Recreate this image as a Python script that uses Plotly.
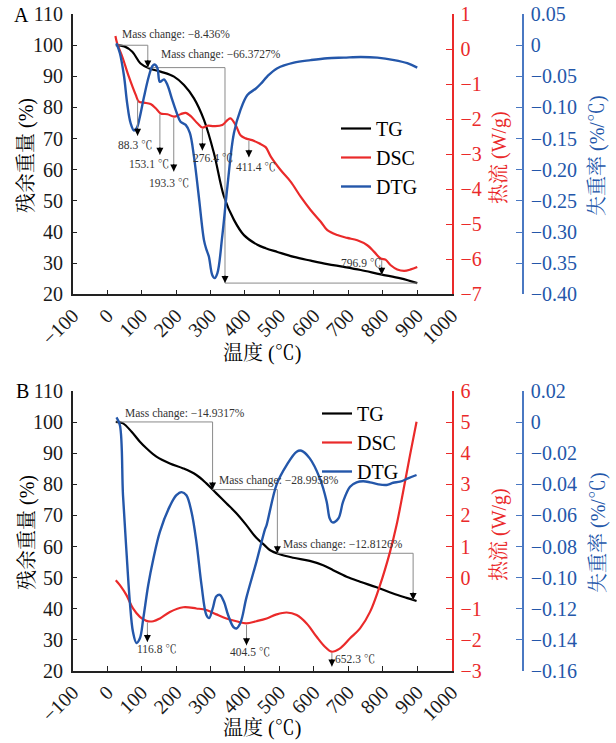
import numpy as np
import plotly.graph_objects as go

# ---------------- DATA ----------------
# Panel A
a_tg_T = [25, 50, 73, 97, 121, 155, 194, 223, 252, 281, 310, 339, 368, 397, 436, 460, 494, 542, 591, 639, 687, 736, 794, 852, 900]
a_tg_v = [100.0, 99.6, 97.9, 94.1, 92.6, 91.5, 89.9, 87.2, 82.9, 76.0, 65.3, 51.4, 43.9, 39.0, 35.9, 34.8, 33.6, 32.0, 30.8, 29.7, 28.8, 27.8, 26.4, 25.1, 23.6]

a_dsc_T = [24, 29, 44, 63, 83, 92, 107, 126, 141, 155, 175, 194, 213, 228, 242, 262, 276, 291, 310, 334, 349, 358, 373, 387, 402, 421, 441, 460, 475, 504, 533, 562, 591, 620, 639, 668, 697, 726, 755, 775, 794, 808, 823, 842, 862, 881, 900]
a_dsc_v = [0.37, 0.16, -0.22, -0.79, -1.31, -1.50, -1.53, -1.57, -1.69, -1.84, -1.86, -1.93, -1.86, -1.82, -1.91, -2.12, -2.24, -2.19, -2.20, -2.17, -2.03, -1.98, -2.17, -2.46, -2.55, -2.60, -2.69, -2.80, -3.07, -3.46, -3.79, -4.22, -4.60, -4.93, -5.17, -5.31, -5.39, -5.46, -5.60, -5.79, -5.98, -6.01, -6.17, -6.29, -6.33, -6.29, -6.22]

a_dtg_T = [27, 37, 49, 58, 68, 78, 86, 95, 107, 121, 131, 138, 146, 153, 165, 175, 189, 202, 213, 228, 240, 252, 266, 281, 288, 295, 305, 312, 320, 334, 349, 368, 387, 407, 431, 446, 465, 494, 542, 591, 639, 687, 736, 784, 833, 871, 900]
a_dtg_v = [0.003, -0.013, -0.050, -0.093, -0.125, -0.137, -0.133, -0.115, -0.083, -0.050, -0.034, -0.031, -0.037, -0.059, -0.055, -0.064, -0.088, -0.109, -0.123, -0.128, -0.141, -0.179, -0.243, -0.313, -0.328, -0.339, -0.369, -0.374, -0.366, -0.307, -0.227, -0.141, -0.104, -0.080, -0.070, -0.062, -0.050, -0.037, -0.028, -0.024, -0.021, -0.020, -0.019, -0.020, -0.024, -0.029, -0.036]

# Panel B
b_tg_T = [25, 46, 71, 95, 114, 143, 182, 221, 259, 288, 317, 346, 375, 404, 433, 458, 472, 501, 540, 588, 627, 656, 695, 734, 782, 830, 869, 898]
b_tg_v = [100.1, 99.6, 96.9, 93.7, 91.6, 88.9, 86.7, 85.1, 83.0, 80.3, 77.1, 73.9, 70.7, 66.9, 62.8, 60.3, 58.9, 57.5, 56.4, 55.4, 54.0, 52.4, 50.3, 48.7, 46.9, 44.9, 43.5, 42.5]

b_dsc_T = [25, 37, 56, 75, 95, 114, 134, 153, 182, 221, 259, 288, 317, 346, 375, 404, 433, 463, 492, 521, 550, 579, 608, 632, 651, 675, 705, 734, 763, 792, 821, 840, 859, 879, 898]
b_dsc_v = [-0.08, -0.24, -0.56, -0.99, -1.26, -1.39, -1.40, -1.31, -1.10, -0.95, -0.99, -1.04, -1.18, -1.31, -1.40, -1.47, -1.40, -1.31, -1.18, -1.12, -1.20, -1.47, -1.90, -2.22, -2.38, -2.28, -1.95, -1.63, -1.10, -0.24, 0.83, 1.69, 2.76, 3.94, 5.01]

b_dtg_T = [27, 37, 46, 56, 66, 75, 85, 95, 105, 119, 134, 153, 182, 201, 216, 230, 245, 259, 274, 288, 296, 306, 317, 327, 339, 351, 366, 375, 387, 404, 433, 458, 463, 492, 521, 550, 564, 588, 617, 637, 646, 654, 671, 685, 705, 724, 743, 763, 787, 811, 830, 850, 875, 898]
b_dtg_v = [0.003, -0.002, -0.047, -0.083, -0.116, -0.135, -0.142, -0.139, -0.126, -0.105, -0.088, -0.0705, -0.054, -0.047, -0.045, -0.047, -0.058, -0.077, -0.105, -0.124, -0.126, -0.120, -0.112, -0.111, -0.1155, -0.124, -0.1316, -0.1327, -0.129, -0.113, -0.090, -0.069, -0.066, -0.040, -0.0276, -0.019, -0.0184, -0.0233, -0.036, -0.051, -0.062, -0.0645, -0.062, -0.051, -0.0415, -0.0387, -0.038, -0.0387, -0.040, -0.0404, -0.039, -0.0383, -0.036, -0.034]

# Annotation content
a_mass_steps = [(27, 118, 118), (118, 342, 900)]       # (start, vertical, end) temperatures
a_mass_labels = ["Mass change: \u22128.436%", "Mass change: \u221266.3727%"]
b_mass_steps = [(27, 306, 306), (306, 494, 494), (494, 888, 888)]
b_mass_labels = ["Mass change: \u221214.9317%", "Mass change: \u221228.9958%", "Mass change: \u221212.8126%"]

a_peaks = [88.3, 153.1, 193.3, 276.4, 411.4, 796.9]
b_peaks = [116.8, 404.5, 652.3]

# tick labels
x_ticks = list(range(-100, 1001, 100))
x_ticktext = [("\u2212" + str(-t)) if t < 0 else str(t) for t in x_ticks]
a_blue_vals = [0.05, 0, -0.05, -0.10, -0.15, -0.20, -0.25, -0.30, -0.35, -0.40]
a_blue_text = ["0.05", "0", "\u22120.05", "\u22120.10", "\u22120.15", "\u22120.20", "\u22120.25", "\u22120.30", "\u22120.35", "\u22120.40"]
b_blue_vals = [0.02, 0, -0.02, -0.04, -0.06, -0.08, -0.10, -0.12, -0.14, -0.16]
b_blue_text = ["0.02", "0", "\u22120.02", "\u22120.04", "\u22120.06", "\u22120.08", "\u22120.10", "\u22120.12", "\u22120.14", "\u22120.16"]

# ---------------- STYLE ----------------
W, H = 616, 743
FONT = "Liberation Serif, 'Noto Serif CJK SC', 'Noto Sans CJK SC', serif"
RED = "#ea2a2a"
BLUE = "#2457aa"
BLUE_AX = "#4a78c2"
GRAY = "#8a8a8a"
TXT = "#333333"

def px2fx(px):
    return px / W

def py2fy(py):
    return 1 - py / H

XDOM = [px2fx(72.7), px2fx(451.7)]
A_DOM = [py2fy(294.3), py2fy(14)]
B_DOM = [py2fy(671), py2fy(391)]
BLUE_POS = px2fx(523)

fig = go.Figure()

def add_panel(tg_T, tg_v, dsc_T, dsc_v, dtg_T, dtg_v, xa, ya, yr, yb, legend):
    fig.add_trace(go.Scatter(x=tg_T, y=tg_v, name="TG", mode="lines", line=dict(color="black", width=2.2),
                             xaxis=xa, yaxis=ya, legend=legend, line_shape="spline"))
    fig.add_trace(go.Scatter(x=dsc_T, y=dsc_v, name="DSC", mode="lines", line=dict(color=RED, width=2.2),
                             xaxis=xa, yaxis=yr, legend=legend, line_shape="spline"))
    fig.add_trace(go.Scatter(x=dtg_T, y=dtg_v, name="DTG", mode="lines", line=dict(color=BLUE, width=2.4),
                             xaxis=xa, yaxis=yb, legend=legend, line_shape="spline"))

add_panel(a_tg_T, a_tg_v, a_dsc_T, a_dsc_v, a_dtg_T, a_dtg_v, "x", "y", "y2", "y3", "legend")
add_panel(b_tg_T, b_tg_v, b_dsc_T, b_dsc_v, b_dtg_T, b_dtg_v, "x2", "y4", "y5", "y6", "legend2")

annotations = []

def add_brackets(steps, labels, tg_T, tg_v, xa, ya, text_shifts):
    for (t0, tv, t1), lab, (dx, dy) in zip(steps, labels, text_shifts):
        la = float(np.interp(t0, tg_T, tg_v))
        lb = float(np.interp(t1, tg_T, tg_v))
        xs = [t0, tv, tv]
        ys = [la, la, lb]
        if t1 != tv:
            xs.append(t1)
            ys.append(lb)
        fig.add_trace(go.Scatter(x=xs, y=ys, mode="lines", line=dict(color=GRAY, width=1),
                                 xaxis=xa, yaxis=ya, showlegend=False, hoverinfo="skip"))
        annotations.append(dict(x=tv, y=lb, xref=xa, yref=ya, text="", showarrow=True,
                                ax=0, ay=-9, arrowhead=2, arrowsize=1.4, arrowwidth=1, arrowcolor="black"))
        annotations.append(dict(x=t0, y=la, xref=xa, yref=ya, text=lab, showarrow=False,
                                xanchor="left", yanchor="middle", xshift=dx, yshift=dy,
                                font=dict(family=FONT, size=11.5, color=TXT)))

add_brackets(a_mass_steps, a_mass_labels, a_tg_T, a_tg_v, "x", "y", [(4, 11), (11, 13)])
add_brackets(b_mass_steps, b_mass_labels, b_tg_T, b_tg_v, "x2", "y4", [(7, 8), (4, 9), (4, 9)])

def add_peaks(peaks, dsc_T, dsc_v, xa, yr, lengths, shifts):
    for t, L, (dx, dy) in zip(peaks, lengths, shifts):
        v = float(np.interp(t, dsc_T, dsc_v))
        annotations.append(dict(x=t, y=v, xref=xa, yref=yr, text="", showarrow=True,
                                ax=0, ay=-L, yshift=-L, arrowhead=0, arrowwidth=1, arrowcolor=GRAY))
        annotations.append(dict(x=t, y=v, xref=xa, yref=yr, text="", showarrow=True,
                                ax=0, ay=-9, yshift=-L, arrowhead=2, arrowsize=1.4, arrowwidth=1,
                                arrowcolor="black"))
        annotations.append(dict(x=t, y=v, xref=xa, yref=yr, text=f"{t} \u2103", showarrow=False,
                                xanchor="center", yanchor="middle", xshift=dx, yshift=-(L + dy),
                                font=dict(family=FONT, size=11.5, color=TXT)))

add_peaks(a_peaks, a_dsc_T, a_dsc_v, "x", "y2",
          [37, 42, 55, 23, 18, 16],
          [(-2, 9.5), (-11, 9), (-5, 11.5), (11, 8), (7, 10), (-21, -12)])
add_peaks(b_peaks, b_dsc_T, b_dsc_v, "x2", "y5",
          [21, 22, 15],
          [(10, 7), (3, 7), (23, -7.5)])

# Panel letters and axis titles
def txt(text, x, y, color="black", size=20, angle=0, xanchor="center"):
    annotations.append(dict(x=px2fx(x), y=py2fy(y), xref="paper", yref="paper", text=text,
                            showarrow=False, textangle=angle, xanchor=xanchor, yanchor="middle",
                            font=dict(family=FONT, size=size, color=color)))

txt("A", 21, 15)
txt("B", 22, 391)
for cy, cx_y in [(156, 353), (533, 728)]:
    txt("残余重量 (%)", 27, cy, angle=-90)
    txt("热流 (W/g)", 499, cy + 2, color=RED, angle=-90)
    txt("失重率 (%/℃)", 598, cy, color=BLUE, angle=-90)
    txt("温度 (℃)", 262, cx_y)

tickfont = dict(family=FONT, size=20, color="#1a1a1a")

def xaxis_cfg(anchor):
    return dict(domain=XDOM, range=[-100, 1000], anchor=anchor, tickmode="array",
                tickvals=x_ticks, ticktext=x_ticktext, tickangle=-45, ticks="inside", ticklen=5,
                tickcolor="#222", showline=True, linecolor="#222", linewidth=1.5, showgrid=False,
                zeroline=False, tickfont=tickfont, automargin=False)

def yleft_cfg(dom, anchor):
    return dict(domain=dom, range=[20, 110], anchor=anchor, tickmode="array",
                tickvals=list(range(20, 111, 10)), ticks="inside", ticklen=5, tickcolor="#222",
                showline=True, linecolor="#222", linewidth=1.5, showgrid=False, zeroline=False,
                tickfont=tickfont, automargin=False, ticklabelstandoff=4)

def yred_cfg(over, anchor, rng, vals):
    return dict(overlaying=over, side="right", anchor=anchor, range=rng, tickmode="array",
                tickvals=vals, ticktext=[("\u2212" + str(-v)) if v < 0 else str(v) for v in vals],
                ticks="inside", ticklen=6, tickcolor=RED, showline=True, linecolor=RED, linewidth=1.5,
                showgrid=False, zeroline=False, tickfont=dict(family=FONT, size=20, color=RED),
                automargin=False, ticklabelstandoff=3)

def yblue_cfg(over, rng, vals, text):
    return dict(overlaying=over, side="right", anchor="free", position=BLUE_POS, range=rng,
                tickmode="array", tickvals=vals, ticktext=text, ticks="inside", ticklen=6,
                tickcolor=BLUE_AX, showline=True, linecolor=BLUE_AX, linewidth=1.5, showgrid=False,
                zeroline=False, tickfont=dict(family=FONT, size=20, color=BLUE), automargin=False,
                ticklabelstandoff=3)

legend_common = dict(xanchor="left", yanchor="top", bgcolor="rgba(0,0,0,0)", borderwidth=0,
                     font=dict(family=FONT, size=20, color="black"), tracegroupgap=0,
                     itemwidth=30, xref="paper", yref="paper")

fig.update_layout(
    width=W, height=H, margin=dict(l=0, r=0, t=0, b=0),
    paper_bgcolor="white", plot_bgcolor="white",
    font=dict(family=FONT, size=20, color="black"),
    xaxis=xaxis_cfg("y"),
    yaxis=yleft_cfg(A_DOM, "x"),
    yaxis2=yred_cfg("y", "x", [-7, 1], list(range(1, -8, -1))),
    yaxis3=yblue_cfg("y", [-0.40, 0.05], a_blue_vals, a_blue_text),
    xaxis2=xaxis_cfg("y4"),
    yaxis4=yleft_cfg(B_DOM, "x2"),
    yaxis5=yred_cfg("y4", "x2", [-3, 6], list(range(6, -4, -1))),
    yaxis6=yblue_cfg("y4", [-0.16, 0.02], b_blue_vals, b_blue_text),
    legend=dict(x=px2fx(336), y=py2fy(109), **legend_common),
    legend2=dict(x=px2fx(317), y=py2fy(394), **legend_common),
    annotations=annotations,
    showlegend=True,
)

fig.write_html("out.html")
